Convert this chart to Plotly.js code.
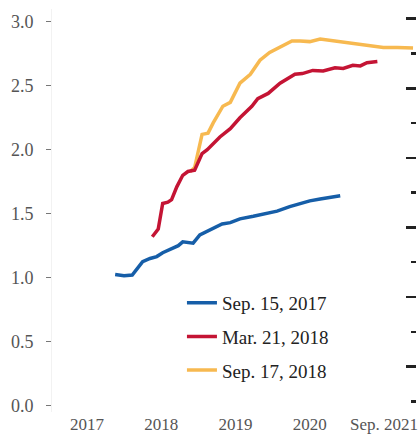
<!DOCTYPE html>
<html>
<head>
<meta charset="utf-8">
<script src="https://cdn.plot.ly/plotly-3.0.1.min.js"></script>
<style>html,body{margin:0;padding:0;background:#fff;}#chart{width:420px;height:436px;}</style>
</head>
<body>
<div id="chart"></div>
<script>
// Series names
const seriesNames = ["Sep. 15, 2017", "Mar. 21, 2018", "Sep. 17, 2018"];

// X tick labels
const xTickVals = [2017, 2018, 2019, 2020, 2021];
const xTickText = ["2017", "2018", "2019", "2020", "Sep. 2021"];
const yTickVals = [0, 0.5, 1.0, 1.5, 2.0, 2.5, 3.0];

// Sep. 15, 2017 path
const sep2017X = [2017.38, 2017.50, 2017.61, 2017.75, 2017.85, 2017.94, 2018.02, 2018.14, 2018.23, 2018.29, 2018.43, 2018.52, 2018.66, 2018.82, 2018.93, 2019.06, 2019.24, 2019.40, 2019.56, 2019.73, 2019.87, 2020.00, 2020.14, 2020.27, 2020.41];
const sep2017Y = [1.025, 1.015, 1.02, 1.125, 1.15, 1.165, 1.195, 1.23, 1.25, 1.28, 1.27, 1.335, 1.375, 1.42, 1.43, 1.46, 1.48, 1.50, 1.52, 1.555, 1.58, 1.60, 1.615, 1.625, 1.64];

// Mar. 21, 2018 path
const mar2018X = [2017.88, 2017.96, 2018.02, 2018.09, 2018.14, 2018.21, 2018.29, 2018.36, 2018.45, 2018.55, 2018.62, 2018.79, 2018.93, 2019.06, 2019.22, 2019.30, 2019.44, 2019.60, 2019.80, 2019.90, 2020.04, 2020.18, 2020.34, 2020.45, 2020.58, 2020.68, 2020.77, 2020.91];
const mar2018Y = [1.32, 1.38, 1.58, 1.59, 1.61, 1.71, 1.80, 1.83, 1.84, 1.97, 2.00, 2.10, 2.165, 2.25, 2.34, 2.40, 2.44, 2.52, 2.59, 2.595, 2.62, 2.615, 2.64, 2.635, 2.66, 2.655, 2.68, 2.69];

// Sep. 17, 2018 path
const sep2018X = [2018.39, 2018.45, 2018.55, 2018.63, 2018.70, 2018.83, 2018.93, 2019.06, 2019.20, 2019.33, 2019.46, 2019.60, 2019.76, 2019.87, 2020.00, 2020.14, 2020.27, 2020.45, 2020.64, 2020.81, 2020.99, 2021.18, 2021.39];
const sep2018Y = [1.83, 1.86, 2.12, 2.13, 2.21, 2.34, 2.37, 2.52, 2.59, 2.70, 2.76, 2.80, 2.85, 2.85, 2.845, 2.865, 2.855, 2.84, 2.82, 2.81, 2.80, 2.80, 2.795];

const colors = ["rgb(22,94,168)", "rgb(196,20,52)", "rgb(247,185,80)"];

const traces = [
  {x: sep2018X, y: sep2018Y, name: seriesNames[2], type: "scatter", mode: "lines", legendgroup: "c",
   line: {color: colors[2], width: 3.5}, legendrank: 3, hoverinfo: "skip"},
  {x: mar2018X, y: mar2018Y, name: seriesNames[1], type: "scatter", mode: "lines", legendgroup: "b",
   line: {color: colors[1], width: 3.5}, legendrank: 2, hoverinfo: "skip"},
  {x: sep2017X, y: sep2017Y, name: seriesNames[0], type: "scatter", mode: "lines", legendgroup: "a",
   line: {color: colors[0], width: 3.5}, legendrank: 1, hoverinfo: "skip"},
  {x: [], y: [], yaxis: "y2", showlegend: false, hoverinfo: "skip", type: "scatter", mode: "lines"}
];

const layout = {
  width: 420, height: 436,
  margin: {l: 52, r: 4, t: 9, b: 24},
  paper_bgcolor: "#ffffff", plot_bgcolor: "#ffffff",
  font: {family: "Liberation Serif, Times New Roman, serif", color: "#555"},
  showlegend: true,
  legend: {
    x: 0.357, xanchor: "left", y: 0.318, yanchor: "top",
    bgcolor: "rgba(0,0,0,0)", font: {size: 19, color: "#222"},
    traceorder: "grouped", tracegroupgap: 6, itemwidth: 30
  },
  xaxis: {
    range: [2016.53, 2021.43], tickvals: xTickVals, ticktext: xTickText,
    showgrid: false, zeroline: false, showline: false, ticks: "",
    ticklabeloverflow: "allow", ticklabelstandoff: 0,
    tickfont: {size: 17, color: "#555"}, fixedrange: true
  },
  yaxis: {
    range: [-0.05, 3.1], tickvals: yTickVals, tickformat: ".1f",
    showgrid: false, zeroline: false, showline: true, linecolor: "#f2f2f2", linewidth: 1,
    ticks: "outside", ticklen: 5, tickwidth: 1, tickcolor: "#777",
    ticklabelstandoff: 9,
    tickfont: {size: 18, color: "#555"}, fixedrange: true
  },
  yaxis2: {
    overlaying: "y", side: "right", anchor: "x",
    range: [-0.05, 3.1], tick0: 0.305, dtick: 0.5438,
    showgrid: false, zeroline: false, showline: false, showticklabels: false,
    ticks: "inside", ticklen: 10, tickwidth: 2.5, tickcolor: "#222",
    minor: {tick0: 0.0331, dtick: 0.2719, ticks: "inside", ticklen: 5, tickwidth: 2.5, tickcolor: "#222", showgrid: false},
    fixedrange: true
  }
};

Plotly.newPlot("chart", traces, layout, {staticPlot: true, displayModeBar: false});
</script>
</body>
</html>
